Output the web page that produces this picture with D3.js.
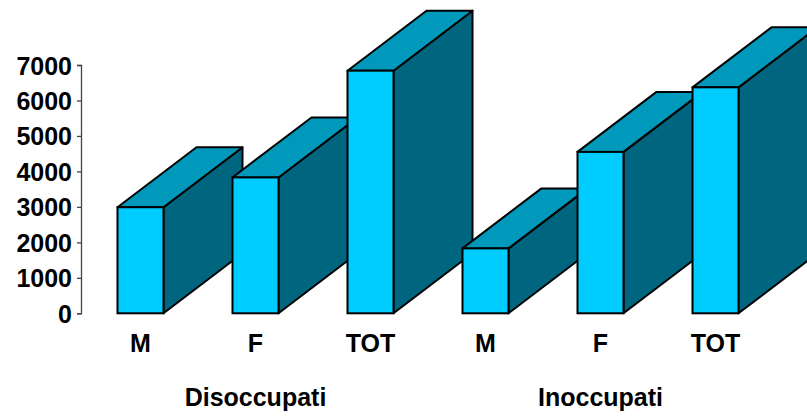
<!DOCTYPE html>
<html>
<head>
<meta charset="utf-8">
<script src="https://cdn.jsdelivr.net/npm/d3@7"></script>
<style>
  body { margin: 0; background: #fff; }
  text { font-family: "Liberation Sans", Arial, sans-serif; font-weight: bold; fill: #000; }
</style>
</head>
<body>
<div id="chart"></div>
<script>
// data
var categories = ["M", "F", "TOT", "M", "F", "TOT"];
var groups = ["Disoccupati", "Inoccupati"];
var values = [2990, 3830, 6840, 1830, 4550, 6370];
var yTicks = [0, 1000, 2000, 3000, 4000, 5000, 6000, 7000];

var width = 807, height = 416;
var depthX = 79, depthY = -60;

var svg = d3.select("#chart").append("svg")
    .attr("width", width)
    .attr("height", height);

var y = d3.scaleLinear()
    .domain([0, 7000])
    .range([313.3, 65]);

var x = d3.scaleBand()
    .domain(d3.range(values.length))
    .range([60, 796])
    .paddingInner(0.6)
    .paddingOuter(0.5);

// y axis
var yAxis = d3.axisLeft(y)
    .tickValues(yTicks)
    .tickFormat(d3.format("d"))
    .tickSize(4)
    .tickPadding(5);

var ax = svg.append("g")
    .attr("transform", "translate(81,0)")
    .call(yAxis);
ax.select(".domain").attr("stroke", "#444").attr("stroke-width", 1.3);
ax.selectAll(".tick line").attr("stroke", "#444").attr("stroke-width", 1.3);
ax.selectAll(".tick text")
    .attr("font-size", 25)
    .attr("dy", "0.36em")
    .style("font-family", "'Liberation Sans', Arial, sans-serif")
    .style("font-weight", "bold");

// 3d bars, drawn left to right so each front covers the previous side
var bars = svg.selectAll(".bar3d")
    .data(values)
    .enter().append("g")
    .attr("class", "bar3d");

bars.each(function(d, i) {
    var g = d3.select(this);
    var x0 = x(i), x1 = x(i) + x.bandwidth();
    var yt = y(d), yb = y(0);

    g.append("polygon") // side
        .attr("points", [[x1, yt], [x1 + depthX, yt + depthY], [x1 + depthX, yb + depthY], [x1, yb]].join(" "))
        .attr("fill", "#00667f")
        .attr("stroke", "#000")
        .attr("stroke-width", 2)
        .attr("stroke-linejoin", "round");

    g.append("polygon") // top
        .attr("points", [[x0, yt], [x0 + depthX, yt + depthY], [x1 + depthX, yt + depthY], [x1, yt]].join(" "))
        .attr("fill", "#0099bb")
        .attr("stroke", "#000")
        .attr("stroke-width", 2)
        .attr("stroke-linejoin", "round");

    g.append("rect") // front
        .attr("x", x0)
        .attr("y", yt)
        .attr("width", x.bandwidth())
        .attr("height", yb - yt)
        .attr("fill", "#00ccff")
        .attr("stroke", "#000")
        .attr("stroke-width", 2);
});

// category labels
svg.selectAll(".cat")
    .data(categories)
    .enter().append("text")
    .attr("class", "cat")
    .attr("x", function(d, i) { return x(i) + x.bandwidth() / 2; })
    .attr("y", 352)
    .attr("text-anchor", "middle")
    .attr("font-size", 25)
    .text(function(d) { return d; });

// group labels, centered under the middle bar of each group
svg.selectAll(".grp")
    .data(groups)
    .enter().append("text")
    .attr("class", "grp")
    .attr("x", function(d, i) { return x(i * 3 + 1) + x.bandwidth() / 2; })
    .attr("y", 406)
    .attr("text-anchor", "middle")
    .attr("font-size", 25)
    .text(function(d) { return d; });
</script>
</body>
</html>
